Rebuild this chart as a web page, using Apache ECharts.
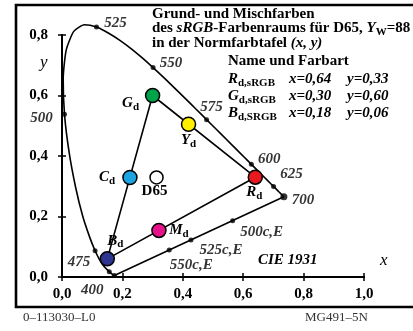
<!DOCTYPE html>
<html>
<head>
<meta charset="utf-8">
<script src="https://cdn.jsdelivr.net/npm/echarts@6/dist/echarts.min.js"></script>
<style>
  html, body { margin: 0; padding: 0; background: #fff; }
  #chart { width: 413px; height: 331px; }
</style>
</head>
<body>
<div id="chart"></div>
<script>
// -- data --
// CIE 1931 spectral locus (x, y), 380 .. 700 nm
let locusX = [0.1741, 0.1733, 0.1726, 0.1714, 0.1689, 0.1644, 0.1566, 0.1440, 0.1355, 0.1241, 0.1096,
  0.0913, 0.0687, 0.0454, 0.0235, 0.0082, 0.0039, 0.0139, 0.0389, 0.0743, 0.1142, 0.1547, 0.1929,
  0.2296, 0.2658, 0.3016, 0.3373, 0.3731, 0.4087, 0.4441, 0.4788, 0.5125, 0.5448, 0.5752, 0.6029,
  0.6270, 0.6658, 0.6915, 0.7006, 0.7079, 0.7190, 0.7260, 0.7300, 0.7334, 0.7347];
let locusY = [0.0050, 0.0048, 0.0048, 0.0051, 0.0069, 0.0109, 0.0177, 0.0297, 0.0399, 0.0578, 0.0868,
  0.1327, 0.2007, 0.2950, 0.4127, 0.5384, 0.6548, 0.7502, 0.8120, 0.8338, 0.8262, 0.8059, 0.7816,
  0.7543, 0.7243, 0.6923, 0.6589, 0.6245, 0.5896, 0.5547, 0.5202, 0.4866, 0.4544, 0.4242, 0.3965,
  0.3725, 0.3340, 0.3083, 0.2993, 0.2920, 0.2809, 0.2740, 0.2700, 0.2666, 0.2653];

// dots on the locus
let markNames = ['400', '', '475', '500', '525', '550', '575', '600', '625', '700'];
let markX = [0.1733, 0.1566, 0.1096, 0.0082, 0.1142, 0.3016, 0.4788, 0.6270, 0.7006, 0.7347];
let markY = [0.0048, 0.0177, 0.0868, 0.5384, 0.8262, 0.6923, 0.5202, 0.3725, 0.2993, 0.2653];
let markOffset = [[-22, 15], [0, 0], [-16, 11], [-23, 4], [19, -4], [18, -4], [5, -13], [18, -5], [18, -12], [19, 3]];

// purple line 400 - 700 nm and complementary dots
let purpleX = [0.1733, 0.7347];
let purpleY = [0.0048, 0.2653];
let complNames = ['550c,E', '525c,E', '500c,E'];
let complX = [0.355, 0.427, 0.565];
let complY = [0.089, 0.122, 0.186];
let complOffset = [[22, 15], [30, 10], [29, 11]];

// sRGB basic and mixed colours
let colorNames = ['R', 'G', 'B', 'Y', 'C', 'M', 'D65'];
let colorX = [0.640, 0.300, 0.150, 0.419, 0.225, 0.321, 0.313];
let colorY = [0.330, 0.600, 0.060, 0.505, 0.329, 0.154, 0.329];
let colorFill = ['#e8191e', '#00a24a', '#2d3590', '#fff000', '#1ca4e2', '#e5128a', '#ffffff'];
let colorOffset = [[-1, 15], [-22, 8], [8, -18], [0, 16], [-23, 0], [20, 0], [-2, 14]];

let tableNames = ['R', 'G', 'B'];
let tableSubs = ['d,sRGB', 'd,sRGB', 'd,SRGB'];
let tableX = ['x=0,64', 'x=0,30', 'x=0,18'];
let tableY = ['y=0,33', 'y=0,60', 'y=0,06'];

let FONT = '"Liberation Serif", "DejaVu Serif", serif';

let richStyle = {
  b: {fontFamily: FONT, fontWeight: 'bold', fontSize: 15, color: '#000'},
  bi: {fontFamily: FONT, fontWeight: 'bold', fontStyle: 'italic', fontSize: 15, color: '#000'},
  sub: {fontFamily: FONT, fontWeight: 'bold', fontSize: 11, color: '#000', padding: [7, 0, 0, 0]}
};

function fmtTick(v) {
  return v.toFixed(1).replace('.', ',');
}

let chart = echarts.init(document.getElementById('chart'));

let markData = [];
markX.forEach(function (x, i) {
  markData.push({
    value: [x, markY[i]],
    name: markNames[i],
    symbolSize: markNames[i] === '700' ? 7 : 5,
    label: {offset: markOffset[i]}
  });
});

let complData = [];
complX.forEach(function (x, i) {
  complData.push({value: [x, complY[i]], name: complNames[i], label: {offset: complOffset[i]}});
});

let colorData = [];
colorX.forEach(function (x, i) {
  colorData.push({
    value: [x, colorY[i]],
    name: colorNames[i],
    symbolSize: i === 6 ? 13 : 14,
    itemStyle: {color: colorFill[i]},
    label: {offset: colorOffset[i]}
  });
});

// triangle G -> R -> B -> G
let tri = [1, 0, 2, 1].map(function (i) {
  return [colorX[i], colorY[i]];
});

let graphics = [
  {type: 'rect', shape: {x: 16, y: 5, width: 430, height: 302}, style: {fill: 'none', stroke: '#000', lineWidth: 2.6}, z: 100},
  {type: 'text', left: 152, top: 7, style: {text: 'Grund- und Mischfarben', font: 'bold 15px ' + FONT, fill: '#000'}},
  {type: 'text', left: 152, top: 21, style: {
    text: '{b|des }{bi|sRGB}{b|-Farbenraums für D65, }{bi|Y}{sub|W}{b|=88}', rich: richStyle}},
  {type: 'text', left: 152, top: 36, style: {text: '{b|in der Normfarbtafel }{bi|(x, y)}', rich: richStyle}},
  {type: 'text', left: 228, top: 54, style: {text: 'Name und Farbart', font: 'bold 15px ' + FONT, fill: '#000'}},
  {type: 'text', left: 40, top: 54, style: {text: 'y', font: 'italic 17px ' + FONT, fill: '#000'}},
  {type: 'text', left: 380, top: 252, style: {text: 'x', font: 'italic 17px ' + FONT, fill: '#000'}},
  {type: 'text', left: 258, top: 253, style: {text: 'CIE 1931', font: 'italic bold 15px ' + FONT, fill: '#000'}},
  {type: 'text', left: 23, top: 311, style: {text: '0\u2013113030\u2013L0', font: '13px ' + FONT, fill: '#333'}},
  {type: 'text', left: 305, top: 311, style: {text: 'MG491\u20135N', font: '13px ' + FONT, fill: '#333'}}
];
tableNames.forEach(function (n, i) {
  let top = 72 + i * 17;
  graphics.push({type: 'text', left: 228, top: top, style: {
    text: '{bi|' + n + '}{sub|' + tableSubs[i] + '}', rich: richStyle}});
  graphics.push({type: 'text', left: 289, top: top, style: {text: tableX[i], font: 'italic bold 15px ' + FONT, fill: '#000'}});
  graphics.push({type: 'text', left: 347, top: top, style: {text: tableY[i], font: 'italic bold 15px ' + FONT, fill: '#000'}});
});

let axisBase = {
  type: 'value',
  axisLine: {show: true, onZero: false, lineStyle: {color: '#000', width: 2}},
  splitLine: {show: false}
};

let option = {
  animation: false,
  backgroundColor: '#fff',
  grid: {left: 62, right: 49, top: 35, bottom: 54},
  xAxis: [
    Object.assign({}, axisBase, {
      min: 0, max: 1, interval: 0.2, position: 'bottom',
      axisTick: {show: true, length: 4, lineStyle: {color: '#000', width: 1.5}},
      axisLabel: {margin: 10, formatter: fmtTick, fontFamily: FONT, fontWeight: 'bold', fontSize: 15, color: '#000'}
    }),
    Object.assign({}, axisBase, {
      min: 0, max: 1, interval: 0.2, position: 'bottom',
      axisTick: {show: true, inside: true, length: 4, lineStyle: {color: '#000', width: 1.5}},
      axisLabel: {show: false}
    })
  ],
  yAxis: [
    Object.assign({}, axisBase, {
      min: 0, max: 0.8, interval: 0.2, position: 'left',
      axisTick: {show: true, length: 4, lineStyle: {color: '#000', width: 1.5}},
      axisLabel: {margin: 14, formatter: fmtTick, fontFamily: FONT, fontWeight: 'bold', fontSize: 15, color: '#000'}
    }),
    Object.assign({}, axisBase, {
      min: 0, max: 0.8, interval: 0.2, position: 'left',
      axisTick: {show: true, inside: true, length: 4, lineStyle: {color: '#000', width: 1.5}},
      axisLabel: {show: false}
    })
  ],
  graphic: graphics,
  series: [
    {
      type: 'line',
      data: locusX.map(function (x, i) { return [x, locusY[i]]; }),
      smooth: 0.2, symbol: 'none', clip: false,
      lineStyle: {color: '#000', width: 1.6}
    },
    {
      type: 'line',
      data: purpleX.map(function (x, i) { return [x, purpleY[i]]; }),
      symbol: 'none', clip: false,
      lineStyle: {color: '#000', width: 1.6}
    },
    {
      type: 'line',
      data: tri,
      symbol: 'none', clip: false,
      lineStyle: {color: '#000', width: 1.6}
    },
    {
      type: 'scatter',
      data: markData,
      clip: false, z: 3,
      itemStyle: {color: '#000'},
      label: {
        show: true, position: 'inside', formatter: '{b}',
        fontFamily: FONT, fontStyle: 'italic', fontWeight: 'bold', fontSize: 15, color: '#000'
      }
    },
    {
      type: 'scatter',
      data: complData,
      symbolSize: 5, clip: false, z: 3,
      itemStyle: {color: '#000'},
      label: {
        show: true, position: 'inside', formatter: '{b}',
        fontFamily: FONT, fontStyle: 'italic', fontWeight: 'bold', fontSize: 15, color: '#000'
      }
    },
    {
      type: 'scatter',
      data: colorData,
      clip: false, z: 4,
      itemStyle: {borderColor: '#000', borderWidth: 1.5, opacity: 1},
      label: {
        show: true, position: 'inside',
        formatter: function (p) {
          return p.name === 'D65' ? '{b|D65}' : '{bi|' + p.name + '}{sub|d}';
        },
        rich: richStyle
      }
    }
  ]
};

chart.setOption(option);
</script>
</body>
</html>
